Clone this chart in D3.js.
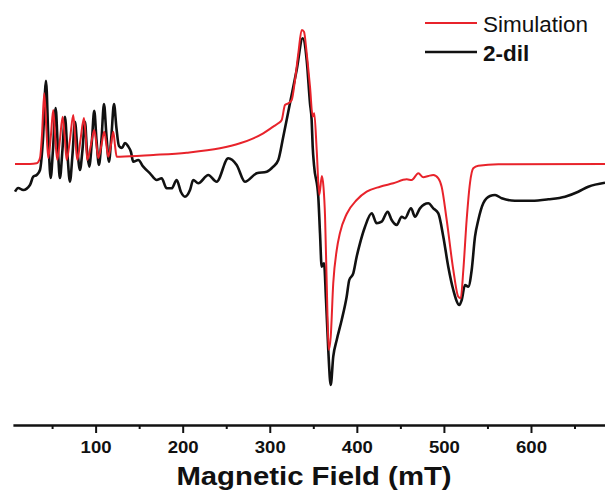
<!DOCTYPE html>
<html lang="en">
<head>
<meta charset="UTF-8">
<title>EPR spectrum</title>
<script src="https://cdnjs.cloudflare.com/ajax/libs/d3/7.8.5/d3.min.js"></script>
<style>
    body { margin: 0; background: #fff; font-family: Arial, 'Liberation Sans', sans-serif; }
</style>
</head>
<body>
<div id="chart"></div>
<script>
    // Simulated spectrum: [field (mT), intensity (a.u.)]
    const simulation = [
        [7.4, 0], [24.6, 0], [32.3, 0.7], [36.1, 6], [38.4, 29], [41.0, 70.7], [43.5, 34],
        [45.6, 6], [48.7, 29], [51.3, 54], [53.8, 24], [55.9, 4], [59.0, 24], [62.1, 47.3],
        [64.8, 24], [66.7, 4], [70.5, 24], [74.3, 49], [76.8, 24], [78.9, 4], [82.6, 24],
        [86.6, 46], [88.9, 24], [90.4, 4], [94.6, 19], [98.4, 34], [101.0, 19], [103.0, 6],
        [106.7, 19], [109.9, 32.3], [112.4, 19], [114.5, 7.3], [117.6, 19], [120.3, 32.3],
        [122.2, 19], [124.2, 7.3], [128.0, 7.3], [166.2, 9], [204.6, 11.3], [242.8, 15.7],
        [265.8, 20.7], [281.1, 25.7], [292.5, 30.7], [304.0, 37.3], [309.8, 40.7], [313.7, 44],
        [317.5, 59], [321.3, 60.7], [325.2, 64], [329.0, 84], [332.8, 110.7], [336.7, 134],
        [339.3, 132.3], [342.4, 110.7], [346.2, 77.3], [349.3, 47.3], [351.1, 50.7], [353.9, 14],
        [356.9, -31], [359.8, -12], [361.7, -23], [363.5, -52.7], [365.4, -119.3], [367.7, -186],
        [370.0, -172.7], [372.9, -119.3], [376.9, -86], [380.6, -69], [388.3, -50], [399.8, -36],
        [411.3, -27.7], [426.6, -22.7], [441.9, -19.3], [457.3, -15.3], [463.0, -16], [470.6, -9.3],
        [476.4, -13.3], [482.1, -12], [487.8, -11], [493.6, -14.3], [497.4, -22.7], [503.2, -56],
        [510.8, -106], [516.5, -132.7], [519.3, -134.3], [522.3, -106], [526.1, -56], [529.9, -19.3],
        [533.7, -4.3], [539.5, -1.7], [562.5, -0.3], [685.0, 0]
    ];

    // Measured spectrum of 2-dil: [field (mT), intensity (a.u.)]
    const measured = [
        [7.4, -27.7], [11.1, -24], [16.9, -26], [24.6, -21], [28.4, -12.7], [32.3, -11], [36.1, -6],
        [39.5, 24], [43.0, 83.3], [45.8, 24], [48.4, -14], [51.0, 14], [54.1, 56], [56.7, 14],
        [59.0, -14], [61.9, 14], [64.8, 47.3], [67.7, 9], [70.5, -17.7], [73.4, 9], [76.3, 42.3],
        [79.1, 14], [82.0, -6], [84.9, 14], [87.8, 42.3], [90.0, 14], [92.7, -2.7], [95.8, 24],
        [98.4, 53.3], [101.0, 24], [103.8, -1], [106.7, 24], [109.6, 60], [112.4, 29], [115.3, 2.3],
        [118.2, 29], [121.1, 60], [123.9, 36], [126.8, 18], [130.3, 16], [133.7, 21], [137.1, 18],
        [140.6, 12], [143.2, 2.3], [149.0, 4], [154.7, -2.7], [162.4, -9.3], [170.1, -16],
        [175.8, -14.3], [181.6, -24.3], [187.3, -24.3], [193.1, -16], [198.0, -28], [202.6, -32.7],
        [208.4, -26], [212.1, -16], [217.9, -19.3], [229.4, -11], [239.0, -17.7], [252.3, 5.7],
        [262.0, -1], [271.5, -17.7], [285.0, -9.3], [296.5, -7.7], [304.0, -2.7], [309.8, 4],
        [315.5, 27.3], [323.2, 60.7], [330.9, 94], [337.8, 125.7], [342.4, 104], [346.2, 60.7],
        [348.1, 44], [349.3, 17.3], [350.8, -1], [355.7, -32.7], [357.7, -69.3], [359.6, -102.7],
        [362.3, -99.3], [364.6, -136], [367.2, -186], [370.0, -221], [372.9, -192.7], [376.9, -176],
        [382.6, -156], [388.3, -132.7], [391.3, -116], [395.9, -109.3], [399.8, -92.7], [403.6, -79.3],
        [409.4, -62.7], [417.1, -49.3], [422.8, -59.3], [428.5, -57.7], [435.4, -47.7], [440.0, -56],
        [445.8, -61], [451.5, -52.7], [455.3, -54.3], [462.2, -44.3], [466.8, -52.7], [472.5, -44.3],
        [482.1, -39.3], [487.8, -44.3], [493.6, -49.3], [499.3, -72.7], [505.0, -102.7], [510.8, -126],
        [517.7, -141], [520.4, -136], [524.2, -121], [528.0, -122.7], [531.9, -106], [535.7, -72.7],
        [539.5, -56], [545.2, -39.3], [552.9, -32], [558.7, -31], [566.4, -34.3], [581.6, -36.7],
        [600.8, -36.7], [619.9, -35.3], [639.1, -32.7], [654.3, -27.7], [665.8, -22.7], [685.0, -18.7]
    ];

    const majorTicks = [100, 200, 300, 400, 500, 600];
    const minorTicks = [50, 150, 250, 350, 450, 550, 650];
    const seriesNames = ['Simulation', '2-dil'];
    const seriesColours = ['#e8232b', '#111111'];

    const width = 605;
    const height = 491;
    const axisY = 425;

    const svg = d3.select('#chart')
        .append('svg')
        .attr('width', width)
        .attr('height', height);

    const x = d3.scaleLinear().domain([5, 685]).range([12.9, 605]);
    const y = d3.scaleLinear().domain([-261, 164]).range([axisY, 0]);

    const line = d3.line()
        .x(d => x(d[0]))
        .y(d => y(d[1]))
        .curve(d3.curveMonotoneX);

    // measured first so the simulation sits on top
    svg.append('path')
        .datum(measured)
        .attr('fill', 'none')
        .attr('stroke', seriesColours[1])
        .attr('stroke-width', 2.6)
        .attr('stroke-linejoin', 'round')
        .attr('d', line);

    svg.append('path')
        .datum(simulation)
        .attr('fill', 'none')
        .attr('stroke', seriesColours[0])
        .attr('stroke-width', 2)
        .attr('stroke-linejoin', 'round')
        .attr('d', line);

    // minor ticks
    const minorAxis = svg.append('g')
        .attr('transform', `translate(0,${axisY})`)
        .call(d3.axisBottom(x).tickValues(minorTicks).tickSize(4).tickSizeOuter(0).tickFormat(''));
    minorAxis.select('.domain').remove();
    minorAxis.selectAll('line').attr('stroke', '#111').attr('stroke-width', 2);

    // major ticks and axis line
    const xAxis = svg.append('g')
        .attr('transform', `translate(0,${axisY})`)
        .call(d3.axisBottom(x).tickValues(majorTicks).tickSize(8).tickSizeOuter(0));
    xAxis.select('.domain').attr('stroke', '#111').attr('stroke-width', 2.6);
    xAxis.selectAll('line').attr('stroke', '#111').attr('stroke-width', 2);
    xAxis.selectAll('text')
        .attr('y', 28.5)
        .attr('dy', null)
        .attr('fill', '#111')
        .attr('font-family', "Arial, 'Liberation Sans', sans-serif")
        .attr('font-size', 16.3)
        .attr('font-weight', 'bold')
        .attr('transform', 'scale(1.14,1)');

    svg.append('text')
        .attr('transform', 'translate(314,485) scale(1.15,1)')
        .attr('text-anchor', 'middle')
        .attr('font-size', 25.5)
        .attr('font-weight', 'bold')
        .attr('fill', '#111')
        .text('Magnetic Field (mT)');

    // legend
    const legend = svg.append('g');
    seriesNames.forEach((name, i) => {
        const ly = 23 + i * 29;
        legend.append('line')
            .attr('x1', 425).attr('x2', 477)
            .attr('y1', ly).attr('y2', ly)
            .attr('stroke', seriesColours[i])
            .attr('stroke-width', i === 0 ? 2 : 2.4);
        legend.append('text')
            .attr('x', 483)
            .attr('y', ly + 8.5)
            .attr('font-size', 22.5)
            .attr('font-weight', i === 0 ? 'normal' : 'bold')
            .attr('fill', '#111')
            .text(name);
    });
</script>
</body>
</html>
